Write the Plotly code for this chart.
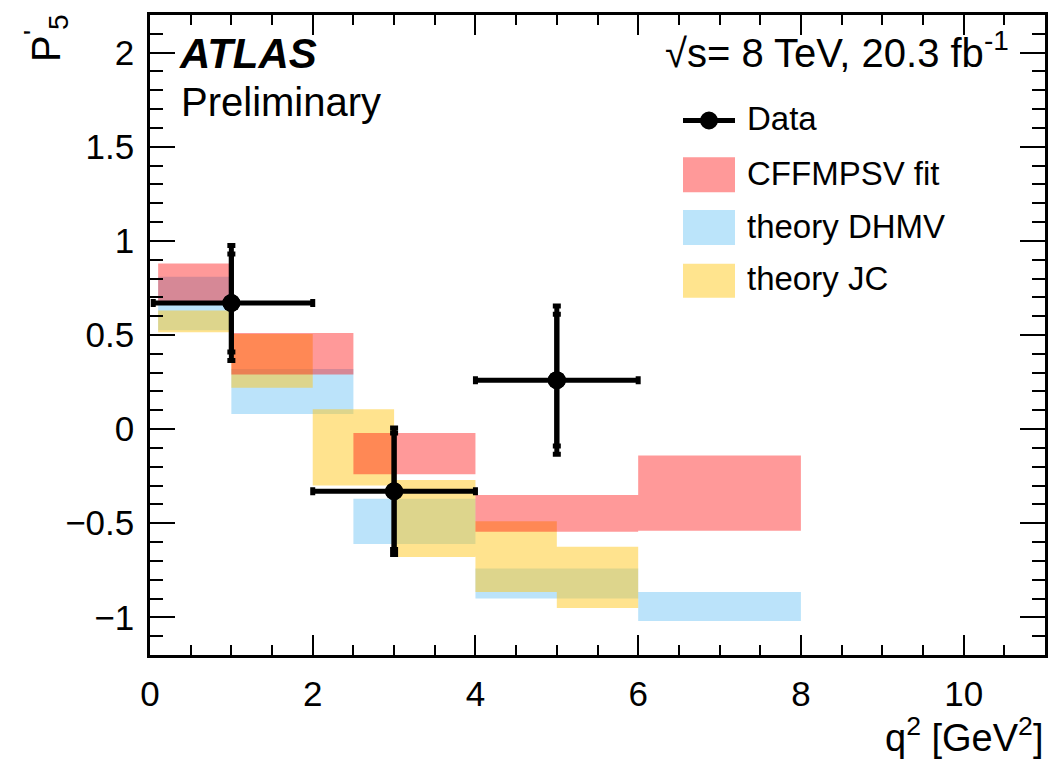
import plotly.graph_objects as go

# ---------------- data ----------------
cff_x0 = [0.1, 1.0, 2.5, 4.0, 6.0]
cff_x1 = [1.0, 2.5, 4.0, 6.0, 8.0]
cff_lo = [0.67, 0.29, -0.24, -0.545, -0.54]
cff_hi = [0.88, 0.51, -0.02, -0.35, -0.14]

dhmv_x0 = [0.1, 1.0, 2.5, 4.0, 6.0]
dhmv_x1 = [1.0, 2.5, 4.0, 6.0, 8.0]
dhmv_lo = [0.525, 0.08, -0.61, -0.90, -1.02]
dhmv_hi = [0.81, 0.32, -0.37, -0.74, -0.865]

jc_x0 = [0.1, 1.0, 2.0, 3.0, 4.0, 5.0]
jc_x1 = [1.0, 2.0, 3.0, 4.0, 5.0, 6.0]
jc_lo = [0.515, 0.22, -0.30, -0.68, -0.865, -0.95]
jc_hi = [0.63, 0.505, 0.105, -0.27, -0.49, -0.625]

data_x = [1.0, 3.0, 5.0]
data_xlo = [0.04, 2.0, 4.0]
data_xhi = [2.0, 4.0, 6.0]
data_y = [0.67, -0.33, 0.26]
data_err_stat = [0.26, 0.31, 0.35]
data_err_tot = [0.305, 0.336, 0.394]

x_ticks = [0, 2, 4, 6, 8, 10]
y_ticks = [-1, -0.5, 0, 0.5, 1, 1.5, 2]
y_ticktext = ["\u22121", "\u22120.5", "0", "0.5", "1", "1.5", "2"]

legend_labels = ["Data", "CFFMPSV fit", "theory DHMV", "theory JC"]

# ---------------- styling ----------------
# the page body has an 8px margin, so the figure is sized to fit the window
OFF = 8
W, H = 1061 - OFF, 765 - OFF
# plot frame in page pixels: left 150, right 1045, top 12, bottom 655
ML, MT = 150 - OFF, 12 - OFF
MR = W - (1045 - OFF)
MB = H - (655 - OFF)
PW, PH = W - ML - MR, H - MT - MB
FONT = "Liberation Sans, Arial, Helvetica, sans-serif"

RED = "rgba(255,0,0,0.4)"
BLUE = "rgba(120,200,245,0.5)"
YEL = "rgba(255,200,30,0.5)"
RED_S = "rgb(255,153,153)"
BLUE_S = "rgb(187,228,250)"
YEL_S = "rgb(255,228,142)"


def px_x(px):  # page pixel -> paper
    return (px - OFF - ML) / PW


def px_y(py):
    return (H - MB - (py - OFF)) / PH


def boxes(x0s, x1s, los, his):
    xs, ys = [], []
    for a, b, lo, hi in zip(x0s, x1s, los, his):
        xs += [a, b, b, a, a, None]
        ys += [lo, lo, hi, hi, lo, None]
    return xs, ys


fig = go.Figure()

for (x0s, x1s, los, his, col) in [
    (dhmv_x0, dhmv_x1, dhmv_lo, dhmv_hi, BLUE),
    (jc_x0, jc_x1, jc_lo, jc_hi, YEL),
    (cff_x0, cff_x1, cff_lo, cff_hi, RED),
]:
    xs, ys = boxes(x0s, x1s, los, his)
    fig.add_trace(go.Scatter(x=xs, y=ys, mode="lines", fill="toself",
                             fillcolor=col, line=dict(width=0),
                             showlegend=False, hoverinfo="skip"))

ex_plus = [b - x for x, b in zip(data_x, data_xhi)]
ex_minus = [x - a for x, a in zip(data_x, data_xlo)]

fig.add_trace(go.Scatter(
    x=data_x, y=data_y, mode="markers",
    marker=dict(size=18, color="black"),
    error_x=dict(type="data", symmetric=False, array=ex_plus, arrayminus=ex_minus,
                 color="black", thickness=5, width=4),
    error_y=dict(type="data", array=data_err_tot, color="black", thickness=5, width=4),
    showlegend=False))
fig.add_trace(go.Scatter(
    x=data_x, y=data_y, mode="markers",
    marker=dict(size=18, color="black"),
    error_y=dict(type="data", array=data_err_stat, color="black", thickness=5, width=4),
    showlegend=False))

# ---------------- legend (drawn by hand, ROOT style) ----------------
shapes = []
annotations = []
sw_x0, sw_x1 = 683, 735
text_x = 745
shapes.append(dict(type="line", xref="paper", yref="paper",
                   x0=px_x(sw_x0), x1=px_x(sw_x1), y0=px_y(118), y1=px_y(118),
                   line=dict(color="black", width=5)))
shapes.append(dict(type="circle", xref="paper", yref="paper",
                   x0=px_x(709 - 9), x1=px_x(709 + 9), y0=px_y(118 + 9), y1=px_y(118 - 9),
                   fillcolor="black", line=dict(color="black", width=0)))
sw_rows = [(155, 190, RED_S), (208, 243, BLUE_S), (262, 296, YEL_S)]
for (t, b, c) in sw_rows:
    shapes.append(dict(type="rect", xref="paper", yref="paper",
                       x0=px_x(sw_x0), x1=px_x(sw_x1), y0=px_y(b), y1=px_y(t),
                       fillcolor=c, line=dict(width=0)))
for lab, cy in zip(legend_labels, [116, 171, 224, 277]):
    annotations.append(dict(text=lab, xref="paper", yref="paper",
                            x=px_x(text_x), y=px_y(cy), xanchor="left", yanchor="middle",
                            showarrow=False, font=dict(family=FONT, size=33, color="black")))

# blue slide markers at far right
for (t, b) in [(22, 36), (618, 632)]:
    shapes.append(dict(type="rect", xref="paper", yref="paper",
                       x0=px_x(1055), x1=px_x(1061), y0=px_y(b), y1=px_y(t),
                       fillcolor="rgb(31,78,140)", line=dict(width=0)))

# labels
annotations.append(dict(text="<b><i>ATLAS</i></b>", xref="paper", yref="paper",
                        x=px_x(177), y=px_y(51), xanchor="left", yanchor="middle",
                        showarrow=False, font=dict(family=FONT, size=42, color="black")))
annotations.append(dict(text="Preliminary", xref="paper", yref="paper",
                        x=px_x(179), y=px_y(99), xanchor="left", yanchor="middle",
                        showarrow=False, font=dict(family=FONT, size=40, color="black")))
annotations.append(dict(text="\u221as= 8 TeV, 20.3 fb<sup>-1</sup>", xref="paper", yref="paper",
                        x=px_x(1011), y=px_y(47), xanchor="right", yanchor="middle",
                        showarrow=False, font=dict(family=FONT, size=40, color="black")))
annotations.append(dict(text="q<sup>2</sup> [GeV<sup>2</sup>]", xref="paper", yref="paper",
                        x=1.0, y=px_y(735), xanchor="right", yanchor="middle",
                        showarrow=False, font=dict(family=FONT, size=38, color="black")))
annotations.append(dict(text="P<sup>'</sup><sub>5</sub>", xref="paper", yref="paper",
                        x=px_x(46), y=px_y(9), xanchor="center", yanchor="top",
                        textangle=-90,
                        showarrow=False, font=dict(family=FONT, size=40, color="black")))

axis_common = dict(showline=True, linewidth=2.5, linecolor="black", mirror="ticks",
                   ticks="inside", tickwidth=2, tickcolor="black", showgrid=False,
                   zeroline=False, tickfont=dict(family=FONT, size=35, color="black"))

fig.update_layout(
    width=W, height=H,
    margin=dict(l=ML, r=MR, t=MT, b=MB),
    paper_bgcolor="white", plot_bgcolor="white",
    shapes=shapes, annotations=annotations,
    xaxis=dict(range=[0, 11], tickvals=x_ticks, ticklen=20,
               minor=dict(dtick=0.5, tick0=0, ticks="inside", ticklen=10, tickwidth=2,
                          tickcolor="black"),
               ticklabelstandoff=6, **axis_common),
    yaxis=dict(range=[-1.2, 2.2], tickvals=y_ticks, ticktext=y_ticktext, ticklen=25,
               minor=dict(dtick=0.1, tick0=0, ticks="inside", ticklen=13, tickwidth=2,
                          tickcolor="black"),
               ticklabelstandoff=6, **axis_common),
    showlegend=False,
)

fig.write_html("out.html")
